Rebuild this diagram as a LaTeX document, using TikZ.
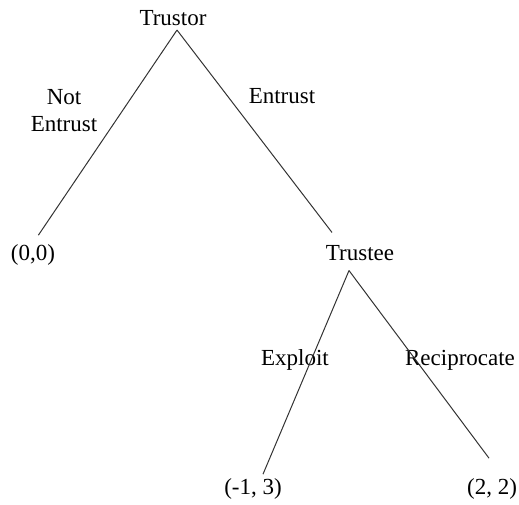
\documentclass[tikz,border=0pt]{standalone}
\usepackage{fontspec}
\setmainfont{Liberation Serif}
\usepackage{tikz}

\begin{document}
\begin{tikzpicture} [x=0.5pt, y=-0.5pt,
  every node/.style={inner sep=2pt, font=\fontsize{11.5}{13.5}\selectfont},
  branch/.style={black!80, line width=0.5pt}]

% the frame
\useasboundingbox (0,0) rectangle (519,504);

% the players
\node (Tor) at (173,18) {Trustor};
\node (Tee) at (360,253) {Trustee};

% the payoffs
\node (P00) at (33,255) {(0,0)};
\node (Pm13) at (253,489) {(-1, 3)};
\node (P22) at (492,489) {(2, 2)};

% the moves
\node [align=center] (NE) at (64,111) {Not\\Entrust};
\node (E) at (282,96) {Entrust};
\node (X) at (295,360) {Exploit};
\node (R) at (460,360) {Reciprocate};

% the branches
\draw [branch, shorten >=3pt] ([xshift=2pt]Tor.south) -- ([xshift=1pt]P00.north);
\draw [branch] ([xshift=2pt]Tor.south) -- ([xshift=-14pt, yshift=4.25pt]Tee.north);
\draw [branch] ([xshift=-5.5pt, yshift=-2.75pt]Tee.south) -- ([xshift=5pt]Pm13.north);
\draw [branch] ([xshift=-5.5pt, yshift=-2.75pt]Tee.south) -- ([xshift=-1.5pt, yshift=8pt]P22.north);

\end{tikzpicture}
\end{document}
